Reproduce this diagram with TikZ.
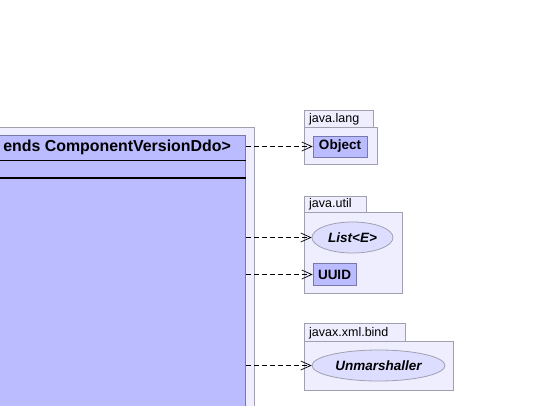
\documentclass[tikz,border=0pt]{standalone}
\usepackage{fontspec}
\setmainfont{Liberation Sans}
\usetikzlibrary{arrows.meta,shapes.geometric}
\definecolor{pkgfill}{RGB}{238,238,255}
\definecolor{pkgline}{RGB}{160,160,176}
\definecolor{clsfill}{RGB}{187,187,255}
\definecolor{clsline}{RGB}{120,120,170}
\definecolor{ifcfill}{RGB}{221,221,255}
\begin{document}
\begin{tikzpicture}[x=1pt,y=-1pt]
  \tikzset{
    pkgbody/.style={draw=pkgline,fill=pkgfill,line width=0.8pt,inner sep=0pt},
    pkgtab/.style={draw=pkgline,fill=pkgfill,line width=0.8pt,inner sep=0pt,anchor=north west},
    pkgname/.style={anchor=south west,inner sep=0pt,font=\fontsize{12.5}{14}\selectfont},
    clsbox/.style={draw=clsline,fill=clsfill,line width=0.8pt,inner sep=0pt,font=\bfseries\fontsize{13.5}{15}\selectfont},
    ifcbox/.style={ellipse,draw=pkgline,fill=ifcfill,line width=0.8pt,inner sep=0pt,font=\bfseries\itshape\fontsize{13.5}{15}\selectfont},
    dep/.style={dashed,dash pattern=on 5pt off 3pt,line width=0.7pt,-{Straight Barb[length=10pt,width=9pt]}}
  }
  \useasboundingbox (0,0) rectangle (554,405);
  \clip (0,0) rectangle (554,405);

  % outer package and the clipped class
  \draw[pkgbody] (-30,127) rectangle (254,430);
  \node[clsbox,minimum width=280pt,minimum height=300pt,anchor=north east] (cls) at (246,135) {};
  \node[anchor=east,inner sep=0pt,font=\bfseries\fontsize{15.9}{18}\selectfont] (clsname) at (231,147.5) {ends ComponentVersionDdo>};
  \draw[line width=0.8pt] (cls.west |- 0,160) -- (cls.east |- 0,160);
  \draw[line width=1.6pt] (cls.west |- 0,178) -- (cls.east |- 0,178);

  % java.lang
  \draw[pkgtab] (304,110) rectangle (373,127);
  \node[pkgname] at (309,125.5) {java.lang};
  \draw[pkgbody] (304,127) rectangle (377,164);
  \node[clsbox,minimum width=54pt,minimum height=21pt] (obj) at (340,146.5) {Object};

  % java.util
  \draw[pkgtab] (304,196) rectangle (366,212);
  \node[pkgname] at (309,210.5) {java.util};
  \draw[pkgbody] (304,212) rectangle (402,293);
  \node[ifcbox,minimum width=81pt,minimum height=31pt] (list) at (352.5,237.5) {List<E>};
  \node[clsbox,minimum width=43pt,minimum height=22pt] (uuid) at (334.5,274.5) {UUID};

  % javax.xml.bind
  \draw[pkgtab] (304,323) rectangle (405,341);
  \node[pkgname] at (309,339.5) {javax.xml.bind};
  \draw[pkgbody] (304,341) rectangle (453,390);
  \node[ifcbox,minimum width=133pt,minimum height=31pt] (unm) at (378.5,365.5) {Unmarshaller};

  % dependencies
  \draw[dep] (cls.east |- obj.west) -- (obj.west);
  \draw[dep] (cls.east |- list.west) -- (list.west);
  \draw[dep] (cls.east |- uuid.west) -- (uuid.west);
  \draw[dep] (cls.east |- unm.west) -- (unm.west);
\end{tikzpicture}
\end{document}
